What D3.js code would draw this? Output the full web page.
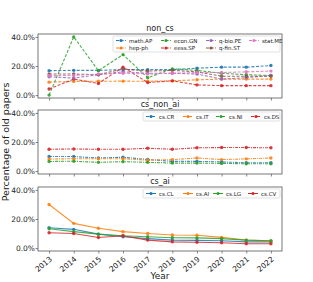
<!DOCTYPE html>
<html>
<head>
<meta charset="utf-8">
<script src="https://cdn.jsdelivr.net/npm/d3@7"></script>
<style>
  body { margin: 0; background: white; }
  svg { display: block; }
</style>
</head>
<body>
<script>
// --- data ---
var years = [2013, 2014, 2015, 2016, 2017, 2018, 2019, 2020, 2021, 2022];
var yTicks = [0, 20, 40];

var nonCsNames = ["math.AP", "hep-ph", "econ.GN", "eess.SP", "q-bio.PE", "q-fin.ST", "stat.ME"];
var nonCsValues = [
    [16.8, 17.0, 17.0, 17.5, 17.5, 17.5, 18.5, 19.2, 19.2, 20.3],
    [8.9, 9.4, 9.5, 9.6, 9.5, 9.8, 10.5, 11.0, 11.0, 11.0],
    [0.0, 40.0, 16.8, 27.8, 12.0, 18.0, 17.0, 15.0, 14.0, 13.5],
    [4.2, 11.0, 8.0, 19.2, 8.6, 9.8, 7.0, 6.5, 6.5, 6.5],
    [12.6, 11.7, 14.0, 16.0, 15.0, 15.0, 14.5, 11.0, 12.0, 13.5],
    [14.5, 14.5, 14.0, 18.0, 16.5, 17.0, 16.0, 13.0, 13.0, 13.0],
    [13.5, 13.5, 14.5, 15.0, 14.5, 15.0, 15.5, 15.5, 16.0, 16.5]
];

var csNonAiNames = ["cs.CR", "cs.IT", "cs.NI", "cs.DS"];
var csNonAiValues = [
    [10.0, 10.0, 9.0, 9.5, 8.0, 6.7, 6.7, 6.3, 5.7, 5.7],
    [8.3, 8.5, 8.5, 8.5, 7.5, 7.9, 9.0, 7.9, 8.4, 9.0],
    [6.6, 6.8, 6.0, 6.5, 6.0, 5.5, 5.5, 5.3, 5.0, 5.0],
    [15.0, 15.2, 15.0, 15.0, 15.7, 15.0, 16.0, 16.2, 16.2, 16.0]
];

var csAiNames = ["cs.CL", "cs.AI", "cs.LG", "cs.CV"];
var csAiValues = [
    [14.0, 12.9, 9.6, 7.8, 6.5, 5.5, 5.3, 5.0, 4.3, 4.3],
    [30.0, 17.0, 13.6, 11.3, 10.0, 9.0, 8.8, 7.4, 5.5, 4.8],
    [13.3, 11.3, 9.6, 8.5, 7.8, 7.1, 7.0, 6.5, 5.5, 5.0],
    [10.5, 10.0, 7.3, 8.5, 5.5, 4.3, 4.0, 3.7, 3.0, 3.0]
];

var palette = ["#1f77b4", "#ff7f0e", "#2ca02c", "#d62728", "#9467bd", "#8c564b", "#e377c2"];

// --- layout ---
var W = 313, H = 282;
var left = 38, right = 282, panelH = 64;
var font = "DejaVu Sans, sans-serif";

var svg = d3.select("body").append("svg")
    .attr("width", W).attr("height", H);

var x = d3.scaleLinear()
    .domain([years[0] - 0.45, years[years.length - 1] + 0.45])
    .range([left, right]);

var panels = [
    {title: "non_cs", top: 34, names: nonCsNames, values: nonCsValues, dash: "3,1.6",
     legendW: 167, legendRows: 2, colX: [0, 45, 90, 133]},
    {title: "cs_non_ai", top: 110, names: csNonAiNames, values: csNonAiValues, dash: "3,1,1,1",
     legendW: 137, legendRows: 1, colX: [0, 37, 70, 105]},
    {title: "cs_ai", top: 187, names: csAiNames, values: csAiValues, dash: null,
     legendW: 137, legendRows: 1, colX: [0, 37, 67, 102]}
];

panels.forEach(function(p, pi) {
    var y = d3.scaleLinear()
        .domain([-2, 42])
        .range([p.top + panelH, p.top]);

    var g = svg.append("g");

    // frame
    g.append("rect")
        .attr("x", left).attr("y", p.top)
        .attr("width", right - left).attr("height", panelH)
        .attr("fill", "none").attr("stroke", "#555").attr("stroke-width", 0.8);

    // title
    g.append("text")
        .text(p.title)
        .attr("x", (left + right) / 2).attr("y", p.top - 3)
        .attr("text-anchor", "middle")
        .attr("font-family", font).attr("font-size", "8px")
        .attr("fill", "#222");

    // y axis
    var yAxis = d3.axisLeft(y).tickValues(yTicks).tickSize(2.5)
        .tickFormat(function(d) { return d.toFixed(1) + "%"; });
    var ya = g.append("g").attr("transform", "translate(" + left + ",0)").call(yAxis);
    ya.select(".domain").remove();
    ya.selectAll("line").attr("stroke", "#555").attr("stroke-width", 0.7);
    ya.selectAll("text").attr("font-family", font).attr("font-size", "7.5px")
        .attr("fill", "#222").attr("x", -3);

    // x axis
    var xAxis = d3.axisBottom(x).tickValues(years).tickSize(2.5)
        .tickFormat(pi == 2 ? d3.format("d") : "");
    var xa = g.append("g").attr("transform", "translate(0," + (p.top + panelH) + ")").call(xAxis);
    xa.select(".domain").remove();
    xa.selectAll("line").attr("stroke", "#555").attr("stroke-width", 0.7);
    if (pi == 2) {
        xa.selectAll("text")
            .attr("font-family", font).attr("font-size", "7.5px").attr("fill", "#222")
            .attr("text-anchor", "end")
            .attr("dy", null).attr("y", null)
            .attr("transform", "translate(3,9) rotate(-40)");
    }

    // series
    var line = d3.line()
        .x(function(d, i) { return x(years[i]); })
        .y(function(d) { return y(d); });

    p.values.forEach(function(vals, si) {
        var col = palette[si];
        g.append("path")
            .datum(vals)
            .attr("d", line)
            .attr("fill", "none")
            .attr("stroke", col)
            .attr("stroke-width", 1.1)
            .attr("stroke-opacity", 0.85)
            .attr("stroke-dasharray", p.dash);
        g.selectAll(null)
            .data(vals)
            .enter().append("circle")
            .attr("cx", function(d, i) { return x(years[i]); })
            .attr("cy", function(d) { return y(d); })
            .attr("r", 1.7)
            .attr("fill", col)
            .attr("fill-opacity", 0.9);
    });

    // legend
    var lx = right - 2 - p.legendW, ly = p.top + 2;
    var lh = p.legendRows == 2 ? 16 : 9;
    var lg = g.append("g").attr("transform", "translate(" + lx + "," + ly + ")");
    lg.append("rect")
        .attr("width", p.legendW).attr("height", lh)
        .attr("rx", 1.5)
        .attr("fill", "white").attr("fill-opacity", 0.85)
        .attr("stroke", "#ccc").attr("stroke-width", 0.6);
    p.names.forEach(function(name, si) {
        var c = Math.floor(si / p.legendRows), r = si % p.legendRows;
        var ex = 3 + p.colX[c], ey = 4.5 + r * 7.5;
        var col = palette[si];
        lg.append("line")
            .attr("x1", ex).attr("x2", ex + 10)
            .attr("y1", ey).attr("y2", ey)
            .attr("stroke", col).attr("stroke-width", 1)
            .attr("stroke-dasharray", p.dash);
        lg.append("circle")
            .attr("cx", ex + 5).attr("cy", ey).attr("r", 1.6)
            .attr("fill", col);
        lg.append("text")
            .text(name)
            .attr("x", ex + 13).attr("y", ey + 2)
            .attr("font-family", font).attr("font-size", "5.5px")
            .attr("fill", "#222");
    });
});

// axis labels
svg.append("text")
    .text("Percentage of old papers")
    .attr("transform", "translate(9," + 142 + ") rotate(-90)")
    .attr("text-anchor", "middle")
    .attr("font-family", font).attr("font-size", "9.5px")
    .attr("fill", "#222");

svg.append("text")
    .text("Year")
    .attr("x", (left + right) / 2).attr("y", 279)
    .attr("text-anchor", "middle")
    .attr("font-family", font).attr("font-size", "9px")
    .attr("fill", "#222");
</script>
</body>
</html>
